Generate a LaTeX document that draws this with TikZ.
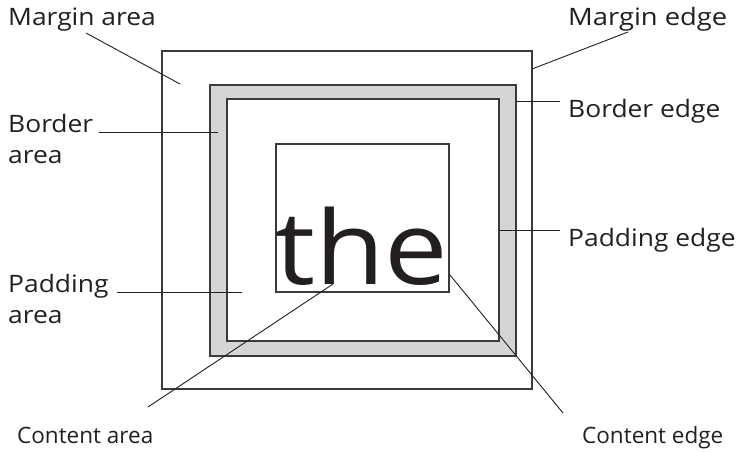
\documentclass[tikz,border=0pt]{standalone}
\usepackage{fontspec}
\usepackage{graphicx}
\setmainfont{Open Sans}
\newcommand\wdtxt[1]{\scalebox{1.1}[1]{#1}}
\definecolor{bandgray}{HTML}{D4D5D7}
\definecolor{linegray}{HTML}{3A3A3A}
\definecolor{ink}{HTML}{231F20}
\begin{document}
\begin{tikzpicture}[x=1pt,y=-1pt,
  box/.style={draw=linegray,line width=1.3pt},
  lead/.style={draw=ink,line width=0.9pt},
  lbl/.style={anchor=base west,inner sep=0pt,font=\fontsize{24}{31}\selectfont,text=ink,align=left},
  smalllbl/.style={lbl,font=\fontsize{22.5}{28}\selectfont}]
\useasboundingbox (0,0) rectangle (742,451);
% boxes
\draw[box] (162,51) rectangle (532,389);
\draw[box,fill=bandgray] (210,85) rectangle (516,356);
\draw[box,fill=white] (227,99) rectangle (499,341);
\draw[box,fill=white] (276,144) rectangle (449,292);
\node[anchor=base west,inner sep=0pt,text=ink,font=\fontsize{102}{102}\selectfont] (the) at (275,284) {\scalebox{1.11}[1]{the}};
% labels
\node[lbl] (marea) at (8,25) {\wdtxt{Margin area}};
\node[lbl] (medge) at (568,25) {\scalebox{1.14}[1]{Margin edge}};
\node[lbl] (bedge) at (568,117) {\wdtxt{Border edge}};
\node[lbl] (pedge) at (568,246) {\wdtxt{Padding edge}};
\node[lbl] (barea) at (8,163) {\wdtxt{Border}\\\wdtxt{area}};
\node[lbl] (parea) at (8,323) {\wdtxt{Padding}\\\wdtxt{area}};
\node[smalllbl] (carea) at (17,443) {Content area};
\node[smalllbl] (cedge) at (582,443) {Content edge};
% free ends
\coordinate (ma1) at (86,33);  \coordinate (ma2) at (180,84);
\coordinate (me1) at (628,32); \coordinate (me2) at (532,69);
\coordinate (be1) at (560,101); \coordinate (be2) at (516,101);
\coordinate (pe1) at (560,230); \coordinate (pe2) at (499,230);
\coordinate (ba1) at (99,132); \coordinate (ba2) at (218,132);
\coordinate (pa1) at (117,292); \coordinate (pa2) at (242,292);
\coordinate (ca1) at (148,407); \coordinate (ca2) at (333,284);
\coordinate (ce1) at (563,413); \coordinate (ce2) at (450,275);
\draw[lead] (ma1) -- (ma2);
\draw[lead] (me1) -- (me2);
\draw[lead] (be1) -- (be2);
\draw[lead] (pe1) -- (pe2);
\draw[lead] (ba1) -- (ba2);
\draw[lead] (pa1) -- (pa2);
\draw[lead] (ca1) -- (ca2);
\draw[lead] (ce1) -- (ce2);
\end{tikzpicture}
\end{document}
